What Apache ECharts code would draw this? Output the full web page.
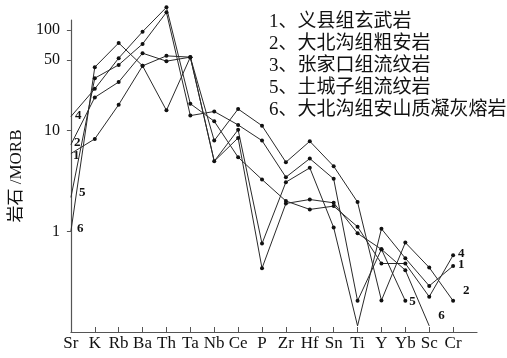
<!DOCTYPE html>
<html>
<head>
<meta charset="utf-8">
<script src="https://cdn.jsdelivr.net/npm/echarts@6/dist/echarts.min.js"></script>
<style>
  html, body { margin: 0; padding: 0; background: #fff; }
  #chart { width: 507px; height: 358px; }
</style>
</head>
<body>
<div id="chart"></div>
<script>
// Elements along the spider diagram, normalised to MORB
const categories = ['Sr', 'K', 'Rb', 'Ba', 'Th', 'Ta', 'Nb', 'Ce', 'P', 'Zr', 'Hf', 'Sn', 'Ti', 'Y', 'Yb', 'Sc', 'Cr'];
const yTickValues = [1, 10, 50, 100];

const legendNames = [
  '1、义县组玄武岩',
  '2、大北沟组粗安岩',
  '3、张家口组流纹岩',
  '5、土城子组流纹岩',
  '6、大北沟组安山质凝灰熔岩'
];

// rock / MORB ratios
const yixianBasalt      = [5.92, 8.28, 18.1, 44.0, 55.3, 53.7, 4.97, 10.2, 0.755, 3.08, 4.27, 1.09, 0.115, 1.06, 0.54, 0.287, 0.453];
const dabeigouTrachy    = [7.27, 21.4, 30.4, 58.8, 49.0, 53.7, 7.96, 16.4, 11.2, 4.86, 7.84, 4.43, 1.95, 0.206, 0.773, 0.437, 0.204];
const zhangjiakouRhyo   = [13.8, 26.0, 52.5, 96.2, 167.8, 18.5, 12.4, 5.44, 3.27, 2.0, 1.65, 1.78, 1.11, 0.479, 0.479, 0.224, 0.579];
const tuchengziRhyo     = [2.17, 33.2, 45.0, 72.7, 149.7, 14.1, 15.5, 11.4, 7.96, 3.45, 5.28, 3.32, 0.204, 0.663, 0.204];
const dabeigouTuff      = [1.0, 42.7, 74.3, 44.0, 15.9, 53.7, 4.97, 8.47, 0.43, 1.89, 2.07, 1.92, 0.955, 0.663, 0.411, 0.115];

// curve number, points drawn without a dot, and where the numbers sit
const curves = [
  { name: legendNames[0], values: yixianBasalt, tag: '1', bare: [0, 6, 12],
    labels: [{ i: 0, offset: [0, 2], dist: 2 }, { i: 16, offset: [0, -1], dist: 3 }] },
  { name: legendNames[1], values: dabeigouTrachy, tag: '2', bare: [0],
    labels: [{ i: 0, offset: [0, -2], dist: 3 }, { i: 16, offset: [5, -10], dist: 3 }] },
  { name: legendNames[2], values: zhangjiakouRhyo, tag: '4', bare: [0],
    labels: [{ i: 0, offset: [0, -1], dist: 4 }, { i: 16, offset: [0, -2], dist: 3 }] },
  { name: legendNames[3], values: tuchengziRhyo, tag: '5', bare: [0],
    labels: [{ i: 0, offset: [5, -5], dist: 3 }, { i: 14, offset: [0, 1], dist: 2 }] },
  { name: legendNames[4], values: dabeigouTuff, tag: '6', bare: [0, 15],
    labels: [{ i: 0, offset: [3, -3], dist: 3 }, { i: 15, offset: [6, -10], dist: 3 }] }
];

const serifFont = '"Liberation Serif", "Noto Sans CJK SC", serif';

function buildSeries(c) {
  const data = c.values.map(function (v, i) {
    const item = { value: v };
    if (c.bare.indexOf(i) >= 0) item.symbolSize = 0;
    const lab = c.labels.find(function (l) { return l.i === i; });
    if (lab) {
      item.label = {
        show: true,
        formatter: c.tag,
        position: 'right',
        distance: lab.dist,
        offset: lab.offset,
        fontFamily: serifFont,
        fontWeight: 'bold',
        fontSize: 13,
        color: '#111'
      };
    }
    return item;
  });
  return {
    name: c.name,
    type: 'line',
    data: data,
    clip: false,
    symbol: 'circle',
    symbolSize: 4,
    showAllSymbol: true,
    lineStyle: { color: '#2a2a2a', width: 1 },
    itemStyle: { color: '#111' },
    emphasis: { disabled: true },
    animation: false
  };
}

const chart = echarts.init(document.getElementById('chart'), null, { renderer: 'canvas' });

chart.setOption({
  backgroundColor: '#fff',
  animation: false,
  grid: { left: 67, right: 30, top: 20, bottom: 26, containLabel: false },
  legend: {
    data: legendNames,
    orient: 'vertical',
    left: 259,
    top: 6,
    icon: 'none',
    itemWidth: 0,
    itemHeight: 10,
    itemGap: 0,
    selectedMode: false,
    textStyle: {
      fontFamily: serifFont,
      fontSize: 19,
      lineHeight: 22,
      color: '#111'
    }
  },
  xAxis: {
    type: 'category',
    data: categories.concat(['']),
    boundaryGap: false,
    axisLine: { show: true, lineStyle: { color: '#555', width: 1.2 } },
    axisTick: {
      show: true,
      inside: true,
      length: 5,
      lineStyle: { color: '#555' },
      interval: function (index) { return index > 0 && index < categories.length; }
    },
    axisLabel: {
      interval: 0,
      margin: 3,
      fontFamily: serifFont,
      fontSize: 17,
      color: '#111'
    },
    splitLine: { show: false }
  },
  yAxis: {
    type: 'log',
    logBase: 10,
    min: 0.1,
    max: 125.6,
    name: '岩石 /MORB',
    nameLocation: 'middle',
    nameRotate: 90,
    nameGap: 41,
    nameTextStyle: { fontFamily: serifFont, fontSize: 17, color: '#111' },
    axisLine: { show: true, lineStyle: { color: '#555', width: 1.2 } },
    axisTick: { show: true, length: 4, customValues: yTickValues, lineStyle: { color: '#555' } },
    axisLabel: {
      customValues: yTickValues,
      margin: 11,
      fontFamily: serifFont,
      fontSize: 16,
      color: '#111',
      formatter: function (v) { return String(Math.round(v)); }
    },
    splitLine: { show: false },
    minorTick: { show: false }
  },
  series: curves.map(buildSeries)
});
</script>
</body>
</html>
